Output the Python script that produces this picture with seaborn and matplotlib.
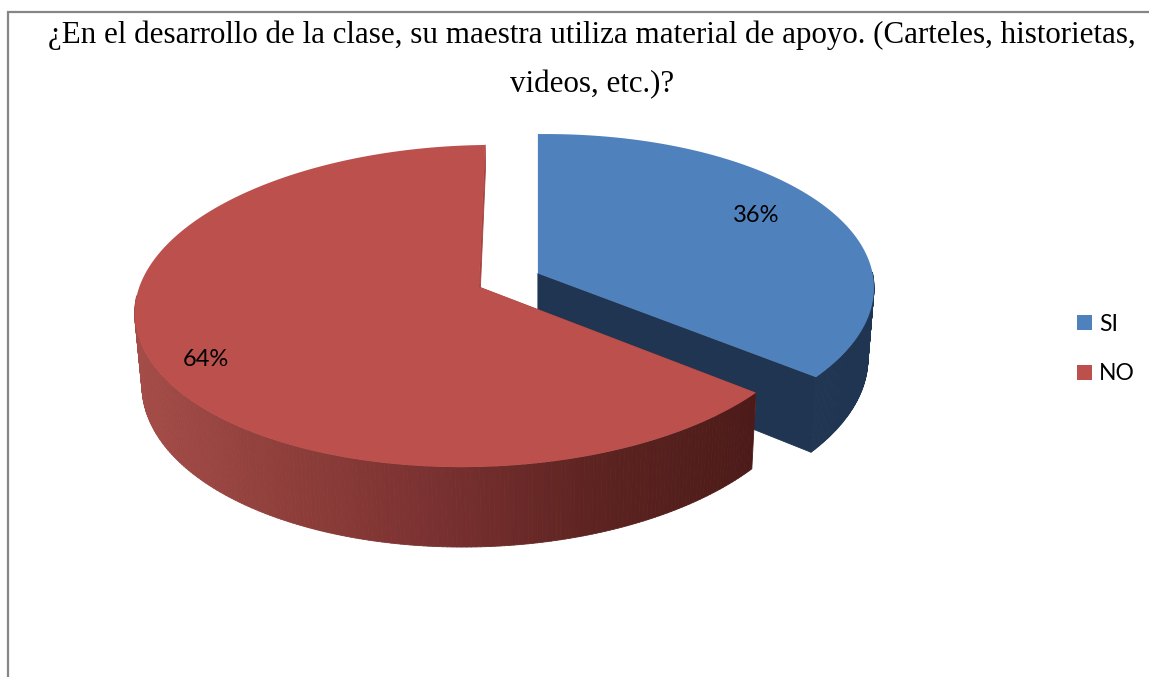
import numpy as np
import matplotlib
matplotlib.use("Agg")
import matplotlib.pyplot as plt
import seaborn as sns
from matplotlib.collections import PolyCollection
from matplotlib.colors import LinearSegmentedColormap
from matplotlib.path import Path
from matplotlib.transforms import Transform

categories = ["SI", "NO"]
values = [36, 64]
title_text = ("¿En el desarrollo de la clase, su maestra utiliza material de apoyo. "
              "(Carteles, historietas,\nvideos, etc.)?")
top_colors = ["#4F81BD", "#BC504D"]
wall_colors = [["#1F3552", "#1F3552"],
               ["#A44C48", "#8E3E3A", "#783030", "#5C2320", "#4C1B19"]]
face_colors = ["#1F3552", "#A8423F"]
face_depth = [1.0, 0.35]
explode = [0.192, 0.0]
label_shift = [(-14, -4), (-14, 13)]

APEX_X, APEX_Y = 479.0, 287.0
R, A, B = 339.0, 158.8, 0.118
C, S = 0.005, 4.0
D, SHRINK = 70.5, 0.018

fractions = np.array(values) / np.sum(values)
bisector = np.deg2rad(90 - 360 * fractions[0] / 2)
VX = explode[0] * np.cos(bisector)


def project(x, y, z=0.0):
    x, y = np.asarray(x, float), np.asarray(y, float)
    w = 1 + B * y + C * x
    vx_px = APEX_X + R * VX
    px = APEX_X + R * (VX + (x - VX) / w)
    px = vx_px + (px - vx_px) * (1 - SHRINK * z)
    py = APEX_Y - A * y / w - S * x + D * z / w
    return px, py


class Perspective(Transform):
    input_dims = 2
    output_dims = 2
    is_separable = False

    def transform_non_affine(self, values):
        px, py = project(values[:, 0], values[:, 1])
        return np.column_stack([px, py])

    def transform_path_non_affine(self, path):
        t = np.linspace(0, 1, 24)
        verts = np.vstack([seg(t) for seg, _ in path.iter_bezier()])
        return Path(self.transform_non_affine(verts))


sns.set_theme(style="white")
fig = plt.figure(figsize=(11.49, 6.77), dpi=100)
ax = fig.add_axes([0, 0, 1, 1])

wedges, _, autotexts = ax.pie(
    values, explode=explode, startangle=90, counterclock=False,
    colors=top_colors, autopct="%.0f%%", pctdistance=0.8, frame=True,
    wedgeprops=dict(linewidth=0),
    textprops=dict(family="Lato", fontsize=17, color="black"),
)
ax.set_xlim(0, 1149)
ax.set_ylim(677, 0)
ax.set_xticks([])
ax.set_yticks([])
for s in ax.spines.values():
    s.set_visible(False)

persp = Perspective() + ax.transData
for i, w in enumerate(wedges):
    w.set_transform(persp)
    w.set_zorder(2 + 2 * i)
    cx, cy = w.center
    t = autotexts[i]
    px, py = project(*t.get_position())
    t.set_position((float(px) + label_shift[i][0], float(py) + label_shift[i][1]))
    t.set_zorder(10)

    th = np.deg2rad(np.linspace(w.theta1, w.theta2, 320))
    polys, cols = [], []
    for ang in (th[0], th[-1]):
        ex, ey = cx + np.cos(ang), cy + np.sin(ang)
        a0, b0 = project(cx, cy, 0)
        a1, b1 = project(ex, ey, 0)
        a2, b2 = project(ex, ey, face_depth[i])
        a3, b3 = project(cx, cy, face_depth[i])
        polys.append([(a0, b0), (a1, b1), (a2, b2), (a3, b3)])
        cols.append(face_colors[i])
    xs, ys = cx + np.cos(th), cy + np.sin(th)
    tx, ty = project(xs, ys, 0)
    bx, by = project(xs, ys, 1)
    cmap = LinearSegmentedColormap.from_list("wall", wall_colors[i])
    lo, hi = tx.min(), tx.max()
    for k in range(len(th) - 1):
        if np.sin(th[k]) > -0.02:
            continue
        polys.append([(tx[k], ty[k]), (tx[k + 1], ty[k + 1]), (bx[k + 1], by[k + 1]), (bx[k], by[k])])
        cols.append(cmap((0.5 * (tx[k] + tx[k + 1]) - lo) / (hi - lo)))
    ax.add_collection(PolyCollection(polys, facecolors=cols, edgecolors=cols,
                                     linewidths=0.6, zorder=1 + 2 * i))

ax.plot([7.5, 7.5, 1149], [677, 12, 12], color="#868686", lw=1.6, zorder=0,
        solid_joinstyle="miter")

ax.set_title(title_text, family="Liberation Serif", fontsize=22.35, color="black",
             x=0.5155, y=1 - 20 / 677, va="top", linespacing=1.9, pad=0)

ax.legend(wedges, categories, loc="center left", bbox_to_anchor=(1077, 349),
          bbox_transform=ax.transData, frameon=False, prop=dict(family="Lato", size=16.5),
          handlelength=0.65, handleheight=0.65, handletextpad=0.3, labelspacing=1.25,
          borderpad=0, borderaxespad=0, labelcolor="black")

fig.savefig("out.png", dpi=100)
